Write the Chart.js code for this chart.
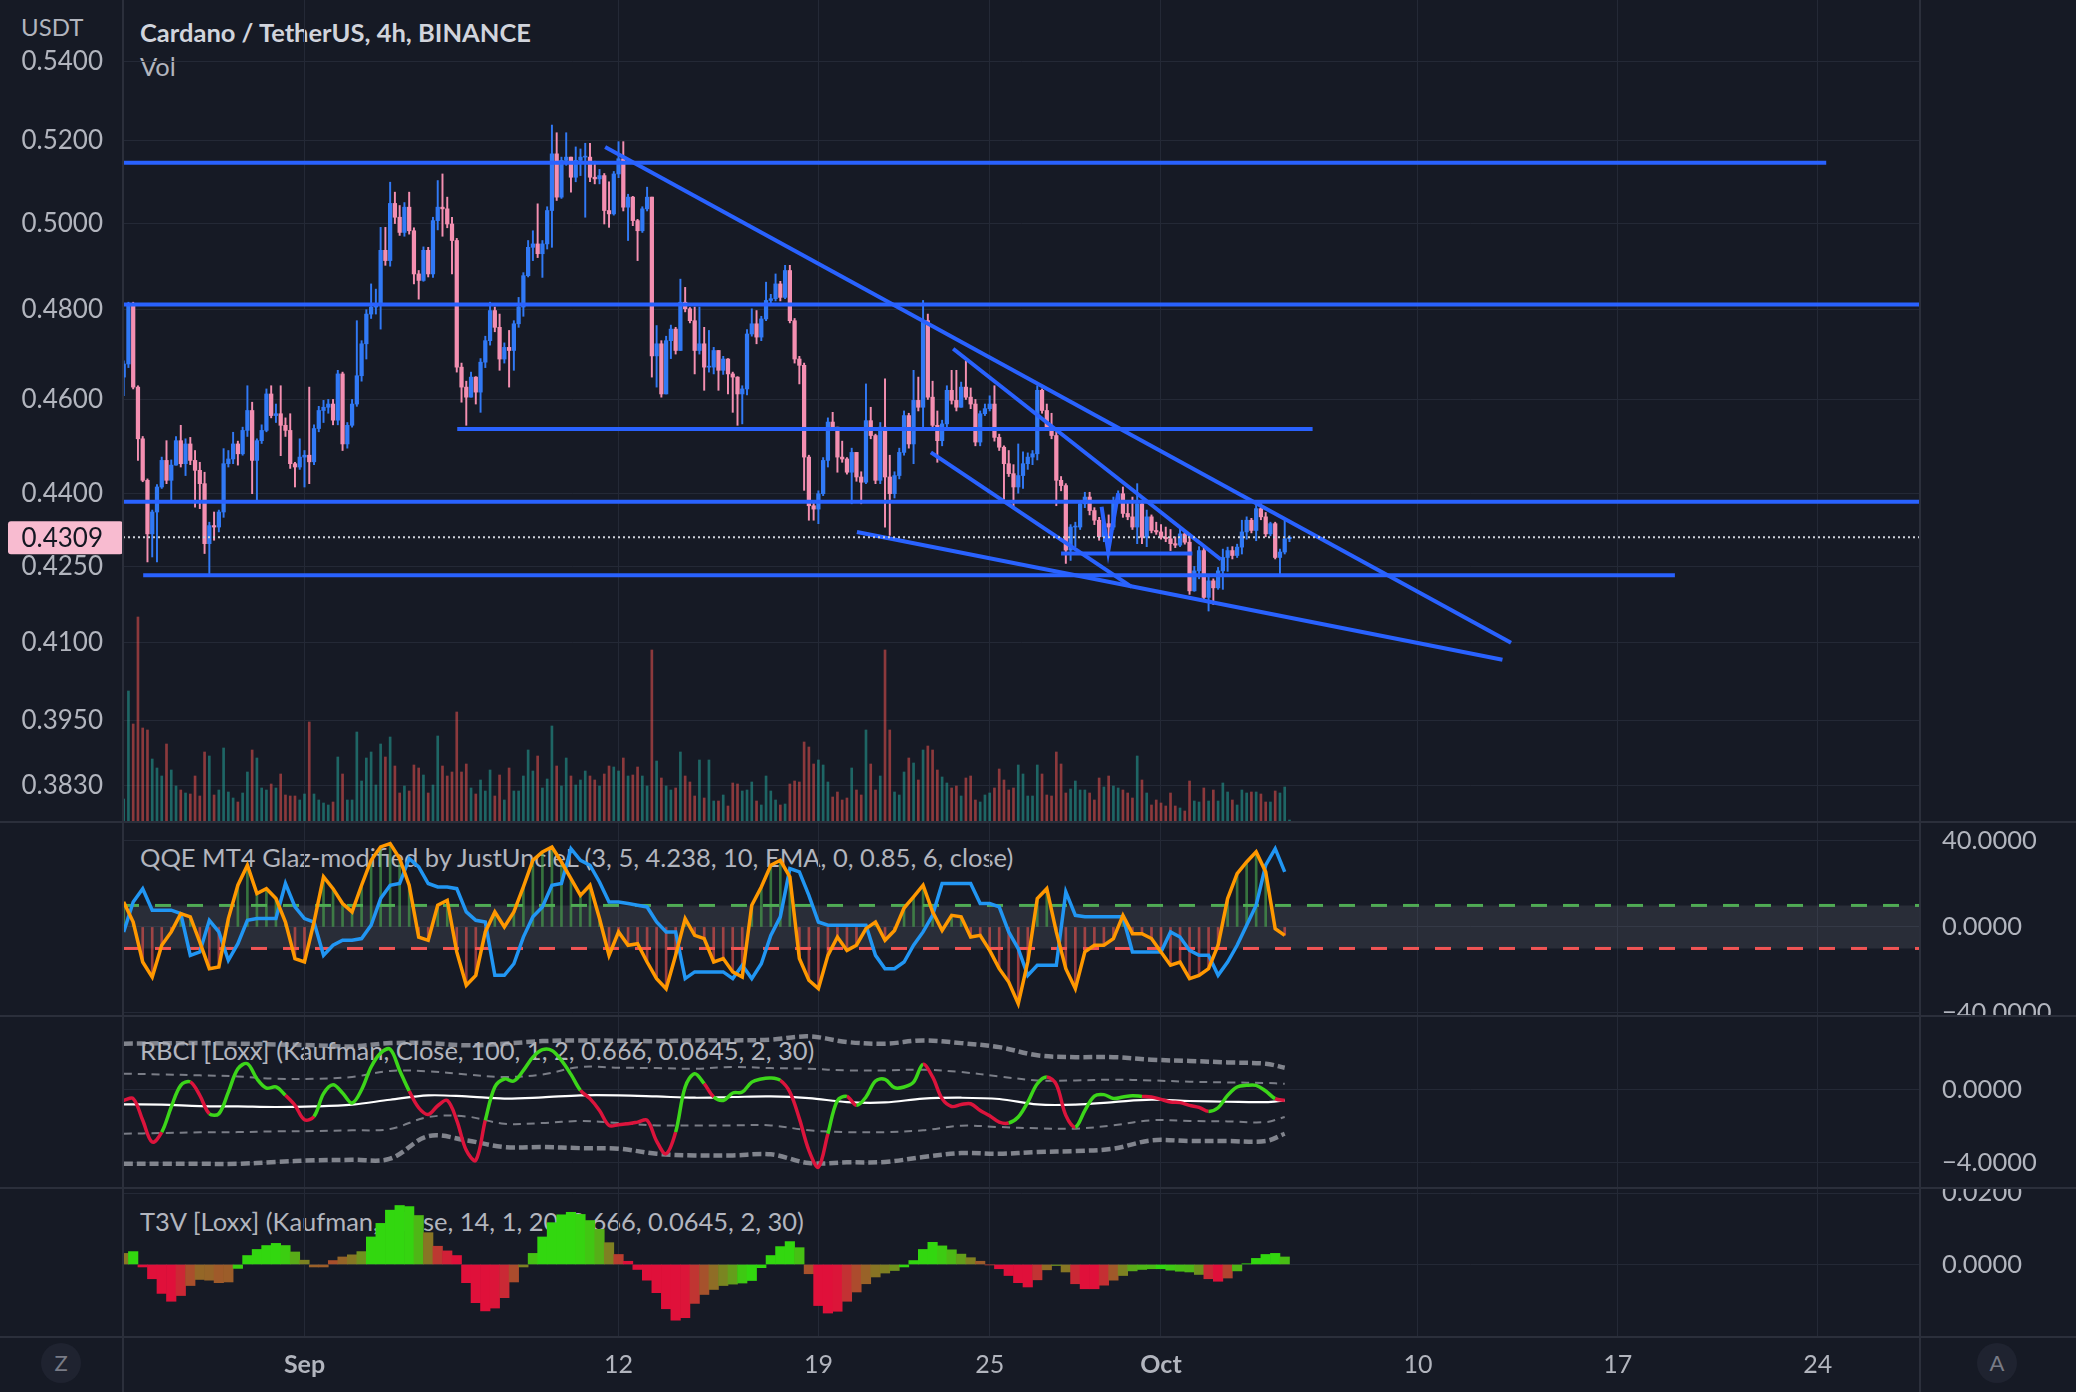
<!DOCTYPE html>
<html>
<head>
<meta charset="utf-8">
<title>Cardano / TetherUS, 4h, BINANCE</title>
<script src="https://cdn.jsdelivr.net/npm/chart.js@4.4.1/dist/chart.umd.min.js"></script>
<style>
  html, body { margin: 0; padding: 0; background: #161a25; }
  #wrap { position: relative; width: 2076px; height: 1392px; overflow: hidden; background: #161a25;
          font-family: Lato, "Open Sans", sans-serif; }
  .pane { position: absolute; left: 0; width: 2076px; z-index: 1; }
  .txt { position: absolute; white-space: nowrap; color: #b2b5be; font-size: 25.5px; line-height: 28px; z-index: 0; }
  .title { color: #d1d4dc; font-weight: bold; font-size: 25.5px; }
  .sep { position: absolute; background: #2b2f3b; z-index: 2; }
  .btn { position: absolute; width: 40px; height: 40px; border-radius: 50%; background: #1f2330;
         color: #787b86; font-size: 22px; line-height: 40px; text-align: center; z-index: 2; }
</style>
</head>
<body>
<div id="wrap">
  <div class="txt" style="left:21px;top:13px;font-size:24px;">USDT</div>
  <div class="txt title" style="left:140px;top:18px;">Cardano / TetherUS, 4h, BINANCE</div>
  <div class="txt" style="left:140px;top:52px;">Vol</div>
  <div class="txt" style="left:140px;top:843px;">QQE MT4 Glaz-modified by JustUncleL (3, 5, 4.238, 10, EMA, 0, 0.85, 6, close)</div>
  <div class="txt" style="left:140px;top:1036px;">RBCI [Loxx] (Kaufman, Close, 100, 1, 2, 0.666, 0.0645, 2, 30)</div>
  <div class="txt" style="left:140px;top:1207px;">T3V [Loxx] (Kaufman, Close, 14, 1, 20, 0.666, 0.0645, 2, 30)</div>

  <div class="pane" style="top:0;height:822px;"><canvas id="mainChart"></canvas></div>
  <div class="pane" style="top:822px;height:194px;"><canvas id="qqeChart"></canvas></div>
  <div class="pane" style="top:1016px;height:172px;"><canvas id="rbciChart"></canvas></div>
  <div class="pane" style="top:1188px;height:204px;"><canvas id="t3vChart"></canvas></div>

  <div class="sep" style="left:0;top:821px;width:2076px;height:2px;"></div>
  <div class="sep" style="left:0;top:1015px;width:2076px;height:2px;"></div>
  <div class="sep" style="left:0;top:1187px;width:2076px;height:2px;"></div>
  <div class="sep" style="left:0;top:1336px;width:2076px;height:2px;"></div>
  <div class="sep" style="left:122px;top:0;width:2px;height:1392px;"></div>
  <div class="sep" style="left:1919px;top:0;width:2px;height:1392px;"></div>
  <div class="btn" style="left:41px;top:1343px;">Z</div>
  <div class="btn" style="left:1977px;top:1343px;">A</div>
</div>

<script>
// time is counted in days from Sep 1; one candle = 4h
const START_DAY = -6 - 1 / 3;
const CANDLE_STEP = 1 / 6;
const IND_STEP = 2;            // indicator values are read every 2nd candle

const dateTicks = [0, 11, 18, 24, 30, 39, 46, 53];
const dateLabels = ['Sep', '12', '19', '25', 'Oct', '10', '17', '24'];
const priceTicks = [0.54, 0.52, 0.50, 0.48, 0.46, 0.44, 0.425, 0.41, 0.395, 0.383];
const qqeTicks = [40, 0, -40];
const rbciTicks = [0, -4];
const t3vTicks = [0.02, 0];

// prices in 1/10000 USDT
const FIRST_OPEN = 4649;
const closes = [4678,4813,4627,4515,4427,4316,4361,4413,4469,4427,
4459,4511,4462,4504,4469,4448,4420,4296,4333,4330,
4361,4462,4472,4504,4483,4533,4576,4469,4511,4533,
4612,4565,4569,4544,4533,4462,4455,4476,4480,4466,
4537,4576,4583,4590,4555,4656,4504,4544,4590,4652,
4723,4790,4806,4813,4937,4913,5048,5015,4979,5039,
4983,4882,4867,4937,4882,5007,5039,5035,4999,4960,
4671,4627,4605,4649,4616,4682,4730,4798,4760,4689,
4715,4708,4768,4806,4878,4944,4952,4929,4952,5031,
5168,5063,5152,5160,5111,5152,5160,5160,5111,5107,
5115,5031,5023,5119,5156,5039,5063,5007,4983,5035,
5063,4696,4723,4612,4730,4756,4708,4817,4802,4775,
4708,4723,4671,4671,4708,4664,4689,4656,4649,4612,
4623,4745,4768,4738,4779,4821,4825,4859,4828,4890,
4775,4689,4675,4476,4374,4367,4399,4469,4551,4540,
4476,4472,4444,4486,4434,4423,4554,4522,4427,4540,
4434,4399,4437,4486,4565,4504,4598,4583,4775,4605,
4544,4511,4547,4620,4598,4583,4627,4605,4590,4508,
4569,4580,4590,4518,4497,4462,4441,4413,4437,4462,
4476,4483,4620,4576,4540,4522,4427,4416,4283,4330,
4330,4378,4392,4364,4344,4310,4337,4330,4385,4399,
4358,4351,4330,4378,4309,4351,4323,4320,4309,4306,
4296,4293,4316,4299,4201,4241,4282,4188,4221,4207,
4241,4268,4282,4272,4289,4320,4344,4323,4368,4351,
4316,4337,4268,4279,4306,4309];
const highs = [4685,4817,4817,4630,4520,4430,4365,4418,4476,4511,
4470,4520,4544,4515,4518,4490,4465,4444,4340,4361,
4365,4494,4490,4529,4510,4540,4630,4594,4515,4545,
4623,4630,4590,4630,4560,4569,4465,4515,4490,4627,
4545,4585,4598,4600,4600,4664,4660,4550,4600,4775,
4730,4800,4859,4847,4991,4991,5099,5075,5043,5050,
5075,4990,4890,4945,4944,5015,5103,5119,5063,5015,
4965,4680,4640,4660,4650,4690,4740,4817,4806,4790,
4725,4753,4775,4828,4885,4960,4983,5047,4960,5040,
5239,5220,5160,5220,5150,5185,5180,5194,5194,5150,
5130,5120,5100,5125,5198,5198,5070,5065,5010,5040,
5087,5045,4764,4730,4740,4765,4760,4870,4851,4805,
4806,4806,4760,4753,4715,4700,4695,4690,4660,4650,
4630,4755,4802,4798,4785,4863,4835,4882,4865,4902,
4902,4780,4695,4680,4480,4380,4405,4475,4560,4572,
4535,4510,4475,4495,4470,4445,4634,4583,4525,4550,
4645,4480,4445,4495,4575,4570,4664,4649,4821,4790,
4640,4575,4555,4630,4664,4664,4638,4685,4625,4600,
4575,4590,4608,4630,4525,4500,4490,4460,4504,4487,
4485,4490,4630,4623,4590,4570,4530,4435,4420,4335,
4340,4385,4402,4402,4370,4350,4345,4355,4392,4405,
4413,4380,4392,4420,4385,4365,4355,4340,4335,4330,
4325,4310,4330,4320,4310,4250,4290,4290,4230,4225,
4248,4285,4289,4290,4295,4344,4351,4348,4375,4378,
4360,4340,4340,4285,4344,4312];
const lows = [4608,4670,4623,4469,4424,4259,4269,4259,4410,4420,
4381,4470,4455,4437,4460,4371,4368,4276,4235,4303,
4320,4350,4455,4462,4459,4480,4520,4399,4385,4505,
4530,4560,4550,4479,4520,4452,4413,4450,4413,4420,
4460,4530,4550,4570,4545,4545,4490,4495,4540,4585,
4640,4689,4780,4790,4756,4902,4900,5000,4972,4970,
4975,4859,4824,4865,4875,4874,4985,4970,4990,4882,
4660,4594,4544,4605,4590,4572,4670,4720,4750,4664,
4680,4627,4664,4760,4785,4875,4913,4920,4874,4940,
4944,5055,5060,5140,5075,5100,5115,5015,5100,5095,
5095,4999,4991,5020,5110,5030,4960,4995,4913,4979,
5030,4649,4627,4605,4630,4690,4700,4715,4795,4770,
4656,4700,4620,4660,4656,4620,4655,4612,4572,4544,
4547,4610,4740,4723,4730,4775,4810,4820,4820,4825,
4770,4680,4634,4406,4344,4344,4337,4395,4455,4535,
4444,4465,4440,4378,4425,4378,4420,4515,4420,4420,
4330,4313,4390,4430,4480,4495,4462,4575,4533,4600,
4535,4465,4500,4540,4590,4575,4590,4600,4580,4500,
4500,4565,4575,4510,4490,4388,4435,4371,4400,4410,
4450,4460,4470,4570,4535,4515,4374,4405,4256,4262,
4290,4325,4370,4355,4335,4303,4300,4296,4325,4380,
4350,4345,4325,4296,4296,4290,4318,4315,4305,4300,
4282,4288,4290,4295,4194,4200,4225,4181,4161,4174,
4204,4204,4240,4265,4268,4275,4305,4318,4302,4345,
4310,4312,4265,4234,4275,4300];
// volume, millions of ADA
const volumes = [23,131,98,205,94,92,63,54,46,78,
52,36,32,29,28,46,26,70,66,27,
32,74,30,24,20,29,50,72,64,34,
32,38,34,48,27,26,26,22,28,100,
28,22,19,17,20,65,48,22,22,90,
41,64,70,37,78,65,85,56,29,36,
31,57,54,47,29,37,86,56,46,50,
110,50,58,34,28,42,31,52,26,47,
22,54,31,31,46,72,51,66,34,43,
96,56,36,64,46,37,42,51,46,42,
36,48,56,55,51,64,46,47,55,46,
36,172,61,44,36,32,34,70,46,40,
26,62,24,62,21,21,27,16,39,38,
31,32,40,21,17,46,31,22,17,18,
38,41,40,80,75,58,62,57,40,25,
30,22,24,54,32,27,92,58,32,46,
172,92,30,27,50,64,59,42,72,76,
72,52,45,39,34,36,26,44,46,22,
20,27,29,34,53,42,32,34,57,48,
26,26,57,48,27,26,70,58,29,33,
41,32,32,29,22,44,35,46,36,34,
32,29,24,66,42,29,17,22,19,16,
29,16,14,11,41,21,20,34,21,32,
21,39,30,22,17,32,29,30,30,28,
20,20,31,29,35,2];

// QQE (every 2nd candle)
const qqeFast = [11.6,2.3,-16.3,-23.3,-8.5,-2.3,6.2,4.7,-7.0,-19.4,
-18.6,3.9,19.4,28.7,15.5,17.8,13.2,2.3,-14.7,-16.3,
2.3,23.3,17.8,10.9,7.0,19.4,31.0,37.2,38.8,31.8,
19.4,-4.7,-6.2,10.1,12.4,-11.6,-27.1,-22.5,-2.3,7.0,
0,7.0,18.6,31.0,34.9,37.2,30.2,22.5,14.7,19.4,
3.9,-13.2,-2.3,-8.5,-7.8,-16.3,-24.0,-28.7,-13.2,3.9,
-3.9,-5.4,-16.3,-14.7,-20.9,
-23.3,10.1,18.6,28.7,31.0,23.3,-14.7,-24.8,-28.7,-13.2,
-4.7,-10.9,-8.5,-0.8,2.3,-6.2,-1.6,8.8,14.0,19.4,
7.0,-1.6,5.4,4.7,-4.7,-3.9,-10.9,-19.4,-25.6,-35.7,
-16.3,13.2,17.8,-2.3,-19.4,-28.7,-11.6,-8.5,-8.5,-5.4,
5.4,-3.1,-3.1,-5.4,-11.6,-17.8,-16.3,-24.0,-22.5,-19.4,
-8.5,13.2,24.8,30.2,34.9,25.6,-0.8,-3.9];
const qqeSlow = [-2.3,11.6,17.8,7.8,7.8,7.8,6.2,-13.2,-11.6,3.1,
-2.3,-15.5,-7.8,3.1,3.9,3.9,3.9,20.2,9.3,3.9,
2.3,-13.2,-8.5,-6.2,-6.2,-5.4,0.8,13.2,19.4,20.2,
31.8,27.9,20.2,18.6,18.6,17.8,7.0,3.1,2.3,-22.5,
-22.5,-17.1,-4.7,4.7,9.3,19.4,20.2,36.4,31.0,28.7,
20.9,11.6,11.6,10.9,10.1,9.3,2.3,-2.3,-2.3,-24.0,
-20.9,-20.9,-20.9,-20.9,-24.0,
-17.8,-24.0,-17.1,-3.9,4.7,27.1,25.6,14.7,2.3,0.8,
0.8,0.8,0.8,0.8,-13.2,-19.4,-19.4,-16.3,-8.5,-2.3,
5.4,20.2,20.2,20.2,20.2,10.9,10.9,9.3,-2.3,-10.1,
-22.5,-17.8,-17.8,-17.8,16.3,5.4,4.7,4.7,4.7,4.7,
4.7,-11.6,-11.6,-11.6,-11.6,-2.3,-4.7,-10.9,-13.2,-13.2,
-22.5,-16.3,-8.5,0.8,10.1,28.7,36.4,25.6];
const QQE_LEVEL = 10;

// RBCI in 1/100 (every 2nd candle), g = green, r = red
const rbci = [-59,-49,-168,-288,-233,-95,24,42,-31,-132,
-132,-13,115,143,60,9,15,-31,-86,-165,
-147,-22,27,-18,-73,0,125,201,222,106,
-7,-99,-136,-88,-59,-168,-333,-388,-168,15,
59,48,106,179,220,216,161,84,-4,-49,
-114,-196,-192,-187,-178,-168,-282,-352,-233,15,
88,33,-40,-59,-18,
-13,42,59,64,51,-13,-159,-333,-425,-242,
-59,-37,-86,-40,48,57,11,15,42,139,
70,-49,-92,-81,-77,-114,-143,-178,-183,-150,
-68,33,70,29,-141,-205,-114,-35,-27,-48,
-40,-33,-37,-40,-53,-68,-71,-86,-97,-119,
-99,-31,15,24,24,-7,-49,-59];
const rbciState = 'grrrrgggrrggggggggrrrggggggggggrrrrrrrrggggggggggrrrrrrrrrrgggrgg' +
                  'gggggrrrrrggrgggggggrrrrrrrrrggggrrrgggggggrrrrrrrggggggg';
// RBCI bands and middle line in 1/100, at these candles
const bandCandles = [0,8,16,24,32,40,48,56,64,72,80,88,96,104,112,120,128,136,144,152,160,168,176,184,192,200,208,216,224,232,240,244];
const bandOuterUp = [253,255,256,253,249,244,238,256,256,244,253,267,271,269,267,271,271,275,293,262,253,271,256,234,189,179,179,165,158,150,143,121];
const bandInnerUp = [88,84,79,73,60,60,70,103,101,84,70,84,125,121,119,115,125,119,115,106,106,110,97,73,51,51,55,51,44,40,37,33];
const bandInnerDn = [-242,-238,-234,-233,-229,-227,-223,-216,-150,-147,-187,-183,-172,-183,-196,-196,-196,-196,-223,-233,-233,-223,-198,-205,-212,-214,-196,-168,-172,-174,-178,-150];
const bandOuterDn = [-407,-407,-407,-407,-397,-388,-385,-379,-255,-278,-315,-315,-321,-324,-352,-361,-361,-355,-403,-399,-397,-370,-348,-352,-342,-337,-324,-278,-282,-282,-282,-242];
const rbciMid = [-81,-82,-90,-92,-95,-92,-82,-55,-31,-37,-49,-42,-31,-31,-37,-44,-40,-37,-46,-68,-70,-49,-44,-51,-81,-82,-68,-55,-62,-66,-68,-59];

// T3V in 1/10000 (every 2nd candle)
const t3v = [31,36,-7,-40,-81,-103,-87,-59,-42,-44,
-51,-49,-11,25,42,53,59,53,35,12,
-7,-7,11,21,27,36,77,115,152,165,
162,137,89,51,38,25,-51,-107,-130,-122,
-93,-49,-7,31,77,117,139,146,140,123,
98,61,28,9,-14,-44,-79,-124,-156,-149,
-109,-84,-70,-59,-55,
-52,-45,-9,25,50,64,47,-26,-115,-136,
-131,-103,-77,-54,-35,-24,-17,-7,11,42,
62,52,41,29,19,9,-1,-12,-31,-51,
-63,-43,-15,-3,-21,-54,-68,-68,-58,-44,
-31,-18,-14,-12,-12,-16,-19,-21,-28,-40,
-47,-38,-18,2,17,28,31,21];

// chart drawings, polylines of [day, price]
const drawings = [
  [[-6.4, 0.5146], [53.3, 0.5146]],
  [[-6.4, 0.4812], [56.6, 0.4812]],
  [[5.35, 0.4536], [35.31, 0.4536]],
  [[-6.4, 0.4382], [56.6, 0.4382]],
  [[-5.65, 0.4232], [48.0, 0.4232]],
  [[10.53, 0.5185], [42.26, 0.4099]],
  [[22.72, 0.4712], [32.10, 0.4264]],
  [[21.94, 0.4486], [28.97, 0.4209]],
  [[19.35, 0.4320], [41.96, 0.4066]],
  [[26.5, 0.4276], [31.1, 0.4276]],
  [[27.92, 0.4372], [28.15, 0.4280], [28.50, 0.4400]]
];

// visible ranges
const X_MIN = -6.357, X_MAX = 56.585;
const PRICE_MIN = 0.3765, PRICE_MAX = 0.5559;
const VOL_MAX = 822;
const QQE_MIN = -41.4, QQE_MAX = 48.8;
const RBCI_MIN = -5.40, RBCI_MAX = 4.05;
const T3V_MIN = -0.0203, T3V_MAX = 0.0214;

const GRID = '#242936';
const UP = '#3179f5', DOWN = '#f48fb1';
const DRAW_BLUE = '#2962ff';
const FONT = 'Lato, "Open Sans", sans-serif';

Chart.defaults.font.family = FONT;
Chart.defaults.font.size = 26;
Chart.defaults.color = '#b2b5be';
Chart.defaults.animation = false;
Chart.defaults.events = [];
Chart.defaults.plugins.legend.display = false;
Chart.defaults.plugins.tooltip.enabled = false;
Chart.defaults.elements.point.radius = 0;

const candleDay = i => START_DAY + i * CANDLE_STEP;
const indDay = k => candleDay(k * IND_STEP);

const candles = closes.map((c, i) => {
  const o = i === 0 ? FIRST_OPEN : closes[i - 1];
  return {
    x: candleDay(i),
    o: o / 1e4, c: c / 1e4,
    h: Math.max(highs[i], o, c) / 1e4,
    l: Math.min(lows[i], o, c) / 1e4
  };
});
const lastClose = candles[candles.length - 1].c;

function xAxis(labels) {
  return {
    type: 'linear', min: X_MIN, max: X_MAX, offset: false,
    grid: { color: GRID, drawTicks: false, offset: false },
    border: { display: false },
    ticks: labels ? {
      padding: 13, autoSkip: false, maxRotation: 0,
      color: '#b2b5be',
      font: ctx => ({ size: 25, weight: isNaN(+dateLabels[ctx.index]) ? 'bold' : 'normal' }),
      callback: (v, i) => dateLabels[i]
    } : { display: false },
    afterBuildTicks: s => { s.ticks = dateTicks.map(v => ({ value: v })); },
    afterFit: s => { s.height = labels ? 55 : 0; s.paddingLeft = 0; s.paddingRight = 0; }
  };
}

function fmt(v) {
  return (v < 0 ? '\u2212' : '') + Math.abs(v).toFixed(4);
}

function indAxis(min, max, ticks) {
  return {
    type: 'linear', position: 'right', min, max,
    grid: { color: GRID, drawTicks: false },
    border: { display: false },
    ticks: { padding: 22, autoSkip: false, font: { size: 25.5 }, callback: v => fmt(v) },
    afterBuildTicks: s => { s.ticks = ticks.map(v => ({ value: v })); },
    afterFit: s => { s.width = 156; s.paddingTop = 0; s.paddingBottom = 0; }
  };
}

const baseOptions = {
  responsive: true,
  maintainAspectRatio: false,
  devicePixelRatio: 1
};

// pink last price tag on the price scale
const lastPriceTag = {
  id: 'lastPriceTag',
  afterDraw(chart) {
    const s = chart.scales.y;
    const y = s.getPixelForValue(lastClose);
    const ctx = chart.ctx;
    ctx.save();
    ctx.fillStyle = '#f8bbd0';
    ctx.beginPath();
    ctx.roundRect(s.left + 8, y - 16, s.width - 8, 33, 3);
    ctx.fill();
    ctx.fillStyle = '#131722';
    ctx.font = '26px ' + FONT;
    ctx.textAlign = 'right';
    ctx.textBaseline = 'middle';
    ctx.fillText(lastClose.toFixed(4), s.right - 20, y + 1);
    ctx.restore();
  }
};

// ---------- main pane ----------
const mainSets = [];
mainSets.push({
  type: 'bar', yAxisID: 'yVol', order: 5, grouped: false, barThickness: 2,
  data: volumes.map((v, i) => ({ x: candleDay(i), y: v })),
  backgroundColor: candles.map(c => c.c >= c.o ? 'rgba(38,166,154,0.55)' : 'rgba(239,83,80,0.55)')
});
mainSets.push({
  type: 'bar', yAxisID: 'y', order: 4, grouped: false, barThickness: 1.3,
  data: candles.map(c => ({ x: c.x, y: [c.l, c.h] })),
  backgroundColor: candles.map(c => c.c >= c.o ? UP : DOWN)
});
mainSets.push({
  type: 'bar', yAxisID: 'y', order: 3, grouped: false, barThickness: 3.6, minBarLength: 1,
  data: candles.map(c => ({ x: c.x, y: [c.o, c.c] })),
  backgroundColor: candles.map(c => c.c >= c.o ? UP : DOWN)
});
drawings.forEach(pts => mainSets.push({
  type: 'line', yAxisID: 'y', order: 2,
  data: pts.map(([d, p]) => ({ x: d, y: p })),
  borderColor: DRAW_BLUE, borderWidth: 4, pointRadius: 0, tension: 0
}));
mainSets.push({
  type: 'line', yAxisID: 'y', order: 1,
  data: [{ x: X_MIN, y: lastClose }, { x: X_MAX, y: lastClose }],
  borderColor: '#d1d4dc', borderWidth: 2, borderDash: [2, 3], pointRadius: 0
});

new Chart(document.getElementById('mainChart'), {
  type: 'bar',
  data: { datasets: mainSets },
  options: {
    ...baseOptions,
    layout: { padding: { left: 0, right: 156, top: 0, bottom: 0 } },
    scales: {
      x: xAxis(false),
      y: {
        type: 'logarithmic', position: 'left', min: PRICE_MIN, max: PRICE_MAX,
        grid: { color: GRID, drawTicks: false },
        border: { display: false },
        ticks: { padding: 20, autoSkip: false, callback: v => Number(v).toFixed(4) },
        afterBuildTicks: s => { s.ticks = priceTicks.map(v => ({ value: v })); },
        afterFit: s => { s.width = 123; s.paddingTop = 0; s.paddingBottom = 0; }
      },
      yVol: { type: 'linear', display: false, min: 0, max: VOL_MAX }
    }
  },
  plugins: [lastPriceTag]
});

// ---------- QQE ----------
new Chart(document.getElementById('qqeChart'), {
  type: 'line',
  data: {
    datasets: [
      {
        data: [{ x: X_MIN, y: QQE_LEVEL }, { x: X_MAX, y: QQE_LEVEL }],
        borderColor: '#4caf50', borderWidth: 3, borderDash: [16, 16], order: 5
      },
      {
        data: [{ x: X_MIN, y: -QQE_LEVEL }, { x: X_MAX, y: -QQE_LEVEL }],
        borderColor: '#f05454', borderWidth: 3, borderDash: [16, 16], order: 4,
        fill: '-1', backgroundColor: 'rgba(120,123,134,0.2)'
      },
      {
        type: 'bar', order: 3, grouped: false, barThickness: 2,
        data: qqeFast.map((v, k) => ({ x: indDay(k), y: v })),
        backgroundColor: qqeFast.map(v => v >= 0 ? 'rgba(76,175,80,0.6)' : 'rgba(239,83,80,0.6)')
      },
      {
        data: qqeSlow.map((v, k) => ({ x: indDay(k), y: v })),
        borderColor: '#2196f3', borderWidth: 3.5, tension: 0, order: 2
      },
      {
        data: qqeFast.map((v, k) => ({ x: indDay(k), y: v })),
        borderColor: '#ff9800', borderWidth: 3.5, tension: 0, order: 1
      }
    ]
  },
  options: {
    ...baseOptions,
    layout: { padding: { left: 123, right: 0, top: 0, bottom: 0 } },
    scales: { x: xAxis(false), y: indAxis(QQE_MIN, QQE_MAX, qqeTicks) }
  }
});

// ---------- RBCI ----------
const bandLine = (vals, thick) => ({
  data: vals.map((v, j) => ({ x: candleDay(bandCandles[j]), y: v / 100 })),
  borderColor: thick ? 'rgba(165,168,176,0.75)' : 'rgba(165,168,176,0.7)',
  borderWidth: thick ? 4.5 : 2,
  borderDash: thick ? [9, 4] : [8, 6],
  tension: 0.35, order: 3
});
new Chart(document.getElementById('rbciChart'), {
  type: 'line',
  data: {
    datasets: [
      bandLine(bandOuterUp, true),
      bandLine(bandInnerUp, false),
      bandLine(bandInnerDn, false),
      bandLine(bandOuterDn, true),
      {
        data: rbciMid.map((v, j) => ({ x: candleDay(bandCandles[j]), y: v / 100 })),
        borderColor: '#ffffff', borderWidth: 2.2, tension: 0.35, order: 2
      },
      {
        data: rbci.map((v, k) => ({ x: indDay(k), y: v / 100 })),
        borderWidth: 3.5, tension: 0.35, order: 1, borderColor: '#3cd61a',
        segment: { borderColor: ctx => rbciState[ctx.p1DataIndex] === 'g' ? '#3cd61a' : '#dc143c' }
      }
    ]
  },
  options: {
    ...baseOptions,
    layout: { padding: { left: 123, right: 0, top: 0, bottom: 0 } },
    scales: { x: xAxis(false), y: indAxis(RBCI_MIN, RBCI_MAX, rbciTicks) }
  }
});

// ---------- T3V ----------
// colour runs from red at the recent low to green at the recent high
const T3V_UP = [50, 215, 15], T3V_DN = [224, 16, 58];
const T3V_WINDOW = 10;
function t3vColor(k) {
  const win = t3v.slice(Math.max(0, k - T3V_WINDOW), k + 1);
  const lo = Math.min(...win), hi = Math.max(...win);
  const t = hi > lo ? (t3v[k] - lo) / (hi - lo) : 0.5;
  const c = T3V_DN.map((d, j) => Math.round(d + (T3V_UP[j] - d) * t));
  return 'rgb(' + c.join(',') + ')';
}
new Chart(document.getElementById('t3vChart'), {
  type: 'bar',
  data: {
    datasets: [{
      data: t3v.map((v, k) => ({ x: indDay(k), y: v / 1e4 })),
      backgroundColor: t3v.map((v, k) => t3vColor(k)),
      barPercentage: 1, categoryPercentage: 1, grouped: false
    }]
  },
  options: {
    ...baseOptions,
    layout: { padding: { left: 123, right: 0, top: 0, bottom: 0 } },
    scales: { x: xAxis(true), y: indAxis(T3V_MIN, T3V_MAX, t3vTicks) }
  }
});
</script>
</body>
</html>
